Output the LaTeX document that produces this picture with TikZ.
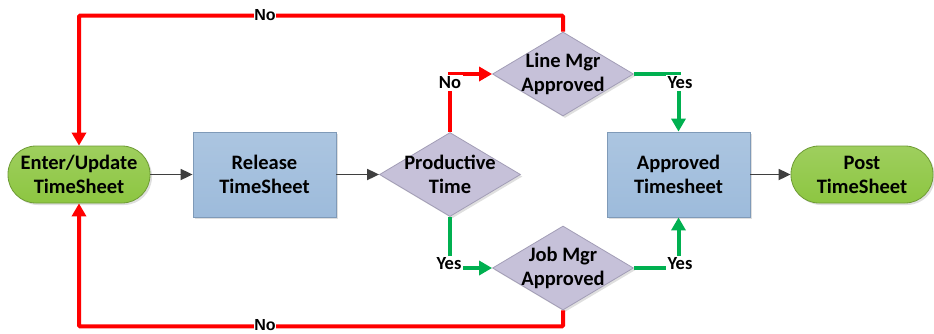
\documentclass[tikz,border=0pt]{standalone}
\usepackage{fontspec}
\setmainfont{Carlito}
\newfontfamily\loopfont{Liberation Sans}
\usetikzlibrary{arrows.meta,shapes.geometric,shadows}
\definecolor{termfill}{HTML}{8DC641}
\definecolor{termdraw}{HTML}{6E9B35}
\definecolor{boxfill}{HTML}{9DBBDB}
\definecolor{boxdraw}{HTML}{7F9AB8}
\definecolor{decfill}{HTML}{C6C1D9}
\definecolor{decdraw}{HTML}{A29DB6}
\definecolor{nored}{HTML}{FF0000}
\definecolor{yesgreen}{HTML}{00B050}
\definecolor{flowgrey}{HTML}{3F3F3F}
\tikzset{
  shade/.style={drop shadow={opacity=0.25,shadow xshift=2pt,shadow yshift=-2pt}},
  term/.style={shade,draw=termdraw,line width=0.8pt,top color=termfill!85!white,bottom color=termfill,
    rounded corners=28pt,minimum width=142pt,minimum height=57pt,align=center,
    font=\bfseries\fontsize{20.5}{24}\selectfont},
  procbox/.style={shade,draw=boxdraw,line width=0.8pt,top color=boxfill!85!white,bottom color=boxfill,
    minimum width=143pt,minimum height=85pt,align=center,
    font=\bfseries\fontsize{20.5}{24}\selectfont},
  decision/.style={shade,diamond,draw=decdraw,line width=0.8pt,fill=decfill,inner sep=0pt,
    minimum width=141pt,minimum height=84pt},
  dectext/.style={align=center,font=\bfseries\fontsize{20.5}{24}\selectfont},
  flow/.style={draw=flowgrey,line width=1.8pt,-{Triangle[length=12pt,width=11pt]}},
  noline/.style={draw=nored,line width=4pt,-{Triangle[length=13pt,width=14pt]}},
  yesline/.style={draw=yesgreen,line width=4pt,-{Triangle[length=13pt,width=14pt]}},
  tag/.style={fill=white,inner sep=1.5pt,font=\bfseries\fontsize{18.5}{20}\selectfont},
  looptag/.style={fill=white,inner sep=0.5pt,font=\loopfont\bfseries\fontsize{16}{18}\selectfont},
}
\begin{document}
\begin{tikzpicture}[x=1pt,y=-1pt]
\useasboundingbox (0,0) rectangle (934,333);

% shapes
\node[term] (enter) at (79,174.5) {Enter/Update\\TimeSheet};
\node[procbox] (release) at (264.5,174.5) {Release\\TimeSheet};
\node[decision] (prod) at (450,174.5) {};
\node[dectext] (prodT) at (450,174.5) {Productive\\Time};
\node[decision] (line) at (563,74) {};
\node[dectext] (lineT) at (563,74) {Line Mgr\\Approved};
\node[decision] (job) at (563,268) {};
\node[dectext] (jobT) at (563,268) {Job Mgr\\Approved};
\node[procbox] (appr) at (678.5,174.5) {Approved\\Timesheet};
\node[term] (post) at (862,174.5) {Post\\TimeSheet};

% main flow
\draw[flow] (enter.east) -- (release.west);
\draw[flow] (release.east) -- (prod.west);
\draw[flow] (appr.east) -- (post.west);

% branches out of the productive-time check
\draw[noline] (prod.north) -- (prod.north |- line.west) -- (line.west);
\node[tag] (noUp) at (450,83) {No};
\draw[yesline] (prod.south) -- (prod.south |- job.west) -- (job.west);
\node[tag] (yesDown) at (449,264) {Yes};

% approvals into the approved timesheet
\coordinate (lineCorner) at (appr.north |- line.east);
\draw[yesline] (line.east) -- (lineCorner) -- (appr.north);
\node[tag] (yesLine) at (680,83) {Yes};
\coordinate (jobCorner) at (appr.south |- job.east);
\draw[yesline] (job.east) -- (jobCorner) -- (appr.south);
\node[tag] (yesJob) at (680,264) {Yes};

% rejections back to the start
\draw[noline,rounded corners=1pt] (line.north) -- ++(0,-16) -| (enter.north);
\node[looptag] (noTop) at (265,15) {No};
\draw[noline,rounded corners=1pt] (job.south) -- ++(0,16) -| (enter.south);
\node[looptag] (noBottom) at (265,325) {No};
\end{tikzpicture}
\end{document}
